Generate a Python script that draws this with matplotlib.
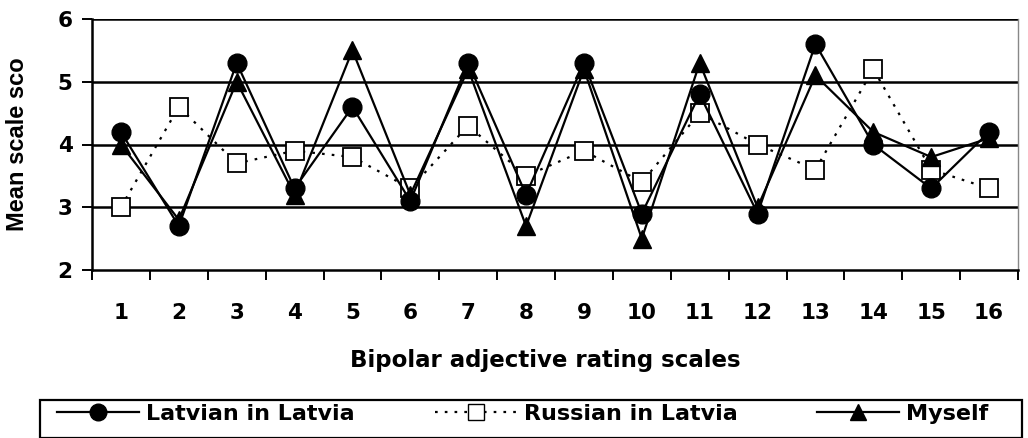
import numpy as np
import matplotlib
matplotlib.use("Agg")
import matplotlib.pyplot as plt
from matplotlib.lines import Line2D
from matplotlib.patches import Rectangle

scales = np.arange(1, 17)
latvian = [4.2, 2.7, 5.3, 3.3, 4.6, 3.1, 5.3, 3.2, 5.3, 2.9, 4.8, 2.9, 5.6, 4.0, 3.3, 4.2]
russian = [3.0, 4.6, 3.7, 3.9, 3.8, 3.3, 4.3, 3.5, 3.9, 3.4, 4.5, 4.0, 3.6, 5.2, 3.6, 3.3]
myself = [4.0, 2.8, 5.0, 3.2, 5.5, 3.2, 5.2, 2.7, 5.2, 2.5, 5.3, 3.0, 5.1, 4.2, 3.8, 4.1]
series_names = ["Latvian in Latvia", "Russian in Latvia", "Myself"]

plt.rcParams['font.family'] = ['DejaVu Sans']
dots = (0, (1.2, 3.2))

fig = plt.figure(figsize=(10.28, 4.38), dpi=100)
ax = fig.add_axes([92/1028, 1-270/438, (1018-92)/1028, (270-19)/438])

ax.plot(scales, russian, color="black", linestyle=dots, lw=1.6,
        marker="s", ms=13, mfc="white", mec="black", mew=1.3, zorder=3)
ax.plot(scales, myself, color="black", lw=1.6, marker="^", ms=13,
        mfc="black", mec="black", zorder=4)
ax.plot(scales, latvian, color="black", lw=1.6, marker="o", ms=13.5,
        mfc="black", mec="black", zorder=5)

ax.set_xlim(0.5, 16.5)
ax.set_ylim(2, 6)
ax.set_yticks([2, 3, 4, 5, 6])
for yv in [3, 4, 5, 6]:
    ax.axhline(yv, color="black", lw=1.8, zorder=1)
ax.set_xticks(scales)
ax.set_xticks(np.arange(0.5, 17, 1), minor=True)
ax.tick_params(axis="x", which="major", length=0, pad=24, labelsize=15.5)
ax.tick_params(axis="x", which="minor", length=7, width=1.4, direction="out")
ax.tick_params(axis="y", length=7, width=1.4, labelsize=15.5, pad=7)
for lab in ax.get_xticklabels() + ax.get_yticklabels():
    lab.set_fontweight("bold")

ax.spines["left"].set_linewidth(1.8)
ax.spines["bottom"].set_linewidth(1.8)
ax.spines["top"].set_visible(False)
ax.spines["right"].set_color("#888888")
ax.spines["right"].set_linewidth(1.0)

ax.set_ylabel("Mean scale sco", fontsize=17, fontweight="bold",
              family=['Liberation Sans', 'DejaVu Sans'])
ax.yaxis.set_label_coords(-0.068, 0.5)
ax.set_xlabel("Bipolar adjective rating scales", fontsize=16.5, fontweight="bold")
ax.xaxis.set_label_coords(0.49, -0.315)

# legend box along the bottom
fig.patches.append(Rectangle((40/1028, 0.0), (1022-40)/1028, (438-400)/438,
                             transform=fig.transFigure, fill=False,
                             edgecolor="black", lw=1.6))

handles = [
    Line2D([], [], color="black", lw=1.6, marker="o", ms=12, mfc="black"),
    Line2D([], [], color="black", lw=1.6, linestyle=dots, marker="s",
           ms=12, mfc="white", mec="black"),
    Line2D([], [], color="black", lw=1.6, marker="^", ms=12, mfc="black"),
]
leg = fig.legend(handles, series_names, loc="center left",
                 bbox_to_anchor=(46/1028, 1-414/438), ncol=3, frameon=False,
                 prop={"weight": "bold", "size": 16},
                 handlelength=3.7, handletextpad=0.3, columnspacing=3.6,
                 borderpad=0.0)

fig.savefig("out.png", dpi=100)
